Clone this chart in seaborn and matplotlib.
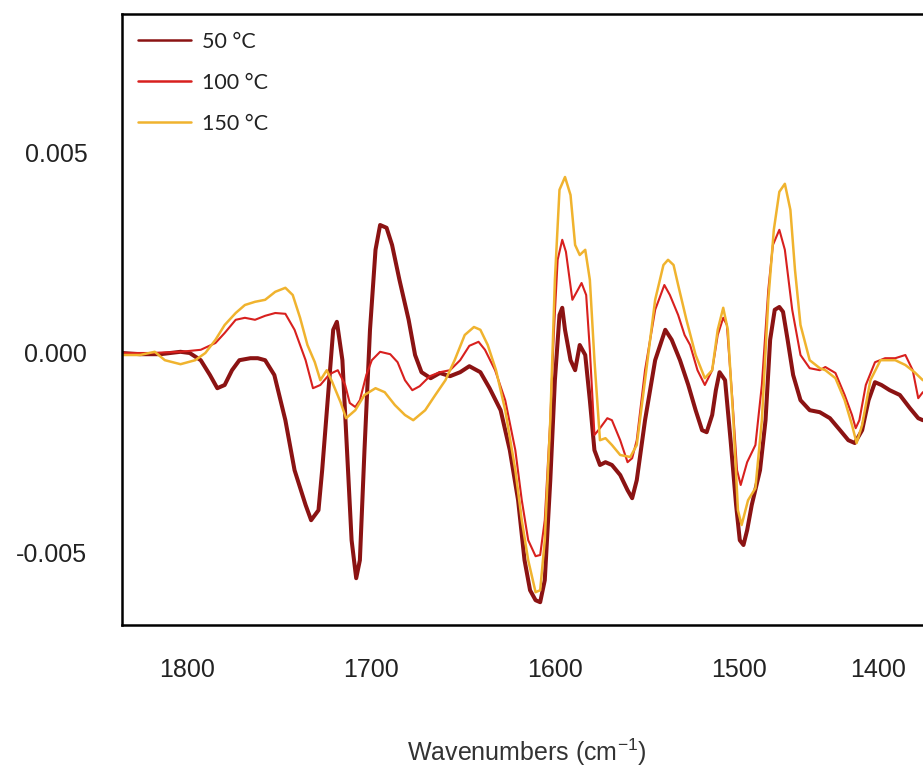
import matplotlib
matplotlib.use("Agg")
import matplotlib.pyplot as plt
import matplotlib.transforms as mtrans
from matplotlib.lines import Line2D
import seaborn as sns
import pandas as pd

# ---------------- data (absorbance difference, in units of 1e-3) ----------------
wn_50 = [1841, 1831, 1820, 1809, 1804, 1798, 1793, 1789, 1785, 1781, 1777, 1771, 1767, 1763,
         1758, 1752, 1747, 1741, 1738, 1734, 1732, 1729, 1726, 1724, 1721, 1718.5, 1716, 1713.5,
         1711.5, 1709, 1706, 1703, 1700.5, 1697, 1694, 1690, 1685, 1681.5, 1678, 1673, 1668,
         1662.5, 1657, 1652, 1646, 1641, 1635, 1630, 1625.5, 1622, 1619, 1616, 1613.5, 1611,
         1608, 1605.5, 1603, 1601.5, 1600, 1597, 1594.5, 1592, 1589, 1586.5, 1584, 1581, 1578,
         1574.5, 1570, 1566, 1563.5, 1561, 1556.5, 1551, 1545.5, 1542, 1537.5, 1533, 1529,
         1525.5, 1523, 1520, 1518, 1516, 1513, 1510, 1507, 1505, 1503, 1501, 1498.5, 1494, 1491,
         1488.5, 1486, 1483.5, 1481.5, 1479, 1476, 1472, 1467, 1461.5, 1456, 1450.5, 1446,
         1442.5, 1438.5, 1435, 1431.5, 1428, 1423.5, 1418, 1412.5, 1408, 1405.5]
abs_50 = [0.0, -0.03, -0.03, 0.03, 0.0, -0.18, -0.55, -0.88, -0.80, -0.43, -0.18, -0.13, -0.13,
          -0.18, -0.55, -1.68, -2.93, -3.80, -4.18, -3.93, -2.93, -1.18, 0.58, 0.78, -0.18,
          -2.43, -4.68, -5.63, -5.18, -2.43, 0.58, 2.58, 3.20, 3.13, 2.70, 1.83, 0.83, -0.05,
          -0.48, -0.63, -0.50, -0.58, -0.48, -0.33, -0.48, -0.88, -1.43, -2.43, -3.68, -5.18,
          -5.93, -6.18, -6.23, -5.68, -3.18, -0.68, 0.95, 1.13, 0.58, -0.18, -0.43, 0.20, -0.05,
          -1.18, -2.43, -2.80, -2.73, -2.80, -3.05, -3.43, -3.63, -3.18, -1.68, -0.18, 0.58,
          0.33, -0.18, -0.80, -1.43, -1.93, -1.98, -1.55, -0.93, -0.48, -0.68, -2.18, -3.80,
          -4.68, -4.80, -4.43, -3.80, -2.93, -1.68, 0.33, 1.08, 1.15, 1.03, 0.33, -0.55, -1.18,
          -1.43, -1.48, -1.63, -1.93, -2.18, -2.25, -1.93, -1.18, -0.73, -0.80, -0.93, -1.05,
          -1.38, -1.63, -1.68]

wn_100 = [1841, 1825.5, 1809, 1798, 1790, 1785, 1779, 1774, 1768.5, 1763, 1757.5, 1752, 1747,
          1741, 1737, 1733, 1728, 1723.5, 1719.5, 1717, 1714, 1711.5, 1708, 1705, 1700.5, 1695,
          1691, 1687, 1683, 1679, 1673.5, 1668, 1662.5, 1657, 1652, 1647, 1643.5, 1638, 1632.5,
          1627, 1623.5, 1620, 1616, 1613.5, 1611, 1608, 1606, 1604, 1601.5, 1599.5, 1596, 1593,
          1591, 1588.5, 1586.5, 1584, 1581, 1577, 1574.5, 1570, 1566, 1563.5, 1561, 1556.5,
          1551, 1546, 1543, 1538.5, 1535, 1532, 1528, 1524, 1520, 1517, 1514, 1512, 1509,
          1506.5, 1504.5, 1501, 1496.5, 1493, 1489.5, 1487, 1483.5, 1480.5, 1476.5, 1472, 1467,
          1461.5, 1458.5, 1453, 1448, 1444, 1442, 1440, 1436.5, 1431.5, 1426, 1420.5, 1415,
          1411, 1408, 1405.5]
abs_100 = [0.0, 0.0, 0.03, 0.08, 0.25, 0.50, 0.83, 0.88, 0.83, 0.93, 1.00, 0.98, 0.58, -0.18,
           -0.88, -0.80, -0.53, -0.43, -0.80, -1.25, -1.35, -1.18, -0.55, -0.18, 0.03, -0.03,
           -0.23, -0.68, -0.93, -0.83, -0.58, -0.48, -0.43, -0.18, 0.18, 0.28, 0.08, -0.43,
           -1.18, -2.43, -3.68, -4.68, -5.08, -5.05, -4.18, -1.68, 0.58, 2.33, 2.83, 2.53, 1.33,
           1.58, 1.75, 1.45, 0.08, -2.05, -1.88, -1.63, -1.68, -2.18, -2.73, -2.63, -2.18, -0.43,
           1.08, 1.70, 1.45, 0.95, 0.45, 0.20, -0.43, -0.80, -0.43, 0.45, 0.88, 0.70, -1.18,
           -2.93, -3.30, -2.73, -2.30, -0.80, 1.58, 2.70, 3.08, 2.58, 1.08, -0.05, -0.38, -0.43,
           -0.35, -0.50, -1.05, -1.55, -1.88, -1.68, -0.80, -0.23, -0.13, -0.13, -0.05, -0.43,
           -1.13, -0.98]

wn_150 = [1841, 1831, 1823, 1817.5, 1809, 1801, 1795.5, 1790, 1785, 1779, 1774, 1768.5, 1763,
          1757.5, 1752, 1748, 1744, 1740, 1736, 1733, 1729.5, 1726.5, 1722, 1719, 1714, 1709,
          1703, 1698, 1692.5, 1687, 1682.5, 1676, 1670.5, 1665, 1660, 1654.5, 1649.5, 1646,
          1642, 1637.5, 1632.5, 1627, 1623.5, 1620, 1616, 1613.5, 1611, 1608, 1605.5, 1603, 1600,
          1597, 1594.5, 1592, 1589, 1586.5, 1584, 1581, 1578, 1574.5, 1570, 1564.5, 1561, 1556.5,
          1551, 1546.5, 1544, 1541, 1538.5, 1534, 1529, 1524, 1520, 1517, 1514, 1511.5, 1508.5,
          1506, 1504, 1500.5, 1496.5, 1493, 1489.5, 1486.5, 1483.5, 1480.5, 1477.5, 1475, 1472,
          1467, 1461.5, 1458.5, 1453, 1448, 1444, 1441.5, 1438.5, 1434, 1428.5, 1420.5, 1415,
          1410, 1405.5]
abs_150 = [-0.05, -0.05, 0.03, -0.18, -0.28, -0.18, 0.0, 0.33, 0.70, 1.00, 1.20, 1.28, 1.33,
           1.53, 1.63, 1.45, 0.88, 0.20, -0.23, -0.68, -0.43, -0.73, -1.23, -1.63, -1.43, -1.05,
           -0.88, -0.98, -1.30, -1.55, -1.68, -1.43, -1.05, -0.68, -0.18, 0.45, 0.65, 0.58, 0.20,
           -0.43, -1.43, -2.93, -4.18, -5.18, -5.98, -5.93, -4.68, -1.68, 1.83, 4.08, 4.40, 3.95,
           2.70, 2.45, 2.58, 1.83, -0.18, -2.18, -2.13, -2.30, -2.55, -2.60, -2.30, -0.68, 1.33,
           2.20, 2.33, 2.20, 1.70, 0.83, -0.05, -0.63, -0.43, 0.58, 1.13, 0.58, -1.68, -3.93,
           -4.30, -3.68, -3.38, -1.68, 1.33, 3.08, 4.03, 4.23, 3.58, 2.08, 0.70, -0.18, -0.38,
           -0.43, -0.63, -1.18, -1.80, -2.25, -1.80, -0.68, -0.18, -0.18, -0.30, -0.48, -0.68]

series_labels = ["50 °C", "100 °C", "150 °C"]
series_colors = ["#8b1313", "#d8201e", "#f0b32e"]
series_widths = [2.9, 1.5, 1.8]
x_ticks = [1800, 1700, 1600, 1500, 1400]
y_ticks = [-0.005, 0.0, 0.005]
y_tick_labels = ["-0.005", "0.000", "0.005"]
x_label = "Wavenumbers (cm$^{-1}$)"

# ---------------- figure ----------------
sns.set_style("white")
plt.rcParams["font.family"] = ["Liberation Sans", "DejaVu Sans"]
plt.rcParams["mathtext.default"] = "regular"

W, H = 923, 776
fig = plt.figure(figsize=(W / 100, H / 100), dpi=100)
left_px, right_px, top_px, bottom_px = 122, 960, 14, 625
ax = fig.add_axes([left_px / W, 1 - bottom_px / H,
                   (right_px - left_px) / W, (bottom_px - top_px) / H])

frames = []
for wn, vals, lab in [(wn_50, abs_50, series_labels[0]),
                      (wn_100, abs_100, series_labels[1]),
                      (wn_150, abs_150, series_labels[2])]:
    frames.append(pd.DataFrame({"wavenumber": wn,
                                "absorbance": [v / 1000.0 for v in vals],
                                "series": lab}))
df = pd.concat(frames, ignore_index=True)

for lab, col, lw in zip(series_labels, series_colors, series_widths):
    sub = df[df["series"] == lab]
    sns.lineplot(data=sub, x="wavenumber", y="absorbance", color=col, linewidth=lw,
                 sort=False, estimator=None, ax=ax, legend=False)

ax.set_xlim(1840.8, 1385.3)
ax.set_ylim(-0.0068, 0.008475)
ax.set_xticks(x_ticks)
ax.set_xticklabels([str(t) for t in x_ticks])
ax.set_yticks(y_ticks)
ax.set_yticklabels(y_tick_labels)

for side in ["top", "left", "bottom"]:
    ax.spines[side].set_visible(True)
    ax.spines[side].set_color("black")
    ax.spines[side].set_linewidth(1.8)
ax.spines["right"].set_visible(False)

ax.tick_params(axis="x", direction="out", length=11, width=1.4, color="#222222",
               pad=13, labelsize=18, labelcolor="#222222")
ax.tick_params(axis="y", direction="out", length=11, width=1.4, color="#222222",
               pad=14, labelsize=18, labelcolor="#222222")

# the reference prints its x labels slightly left of their ticks
label_shift_px = {1800: -10, 1700: -10, 1600: -10, 1500: -10, 1400: -55}
for tick, val in zip(ax.xaxis.get_major_ticks(), x_ticks):
    shift = mtrans.ScaledTranslation(label_shift_px[val] / 100.0, 0, fig.dpi_scale_trans)
    tick.label1.set_transform(tick.label1.get_transform() + shift)

ax.set_xlabel(x_label, fontsize=18, color="#333333")
ax.set_ylabel("")
ax.xaxis.set_label_coords((527 - left_px) / (right_px - left_px),
                          -(752 - bottom_px) / (bottom_px - top_px))
ax.xaxis.label.set_verticalalignment("center")

handles = [Line2D([0], [0], color=c, lw=1.8) for c in series_colors]
ax.legend(handles, series_labels, loc="upper left", frameon=False,
          bbox_to_anchor=(138 / W, 1 - 32 / H), bbox_transform=fig.transFigure,
          borderpad=0, borderaxespad=0, handlelength=2.45, handletextpad=0.5,
          labelspacing=0.97, prop={"family": ["Lato", "DejaVu Sans"], "size": 15.5},
          labelcolor="#222222")

fig.savefig("out.png", dpi=100)
